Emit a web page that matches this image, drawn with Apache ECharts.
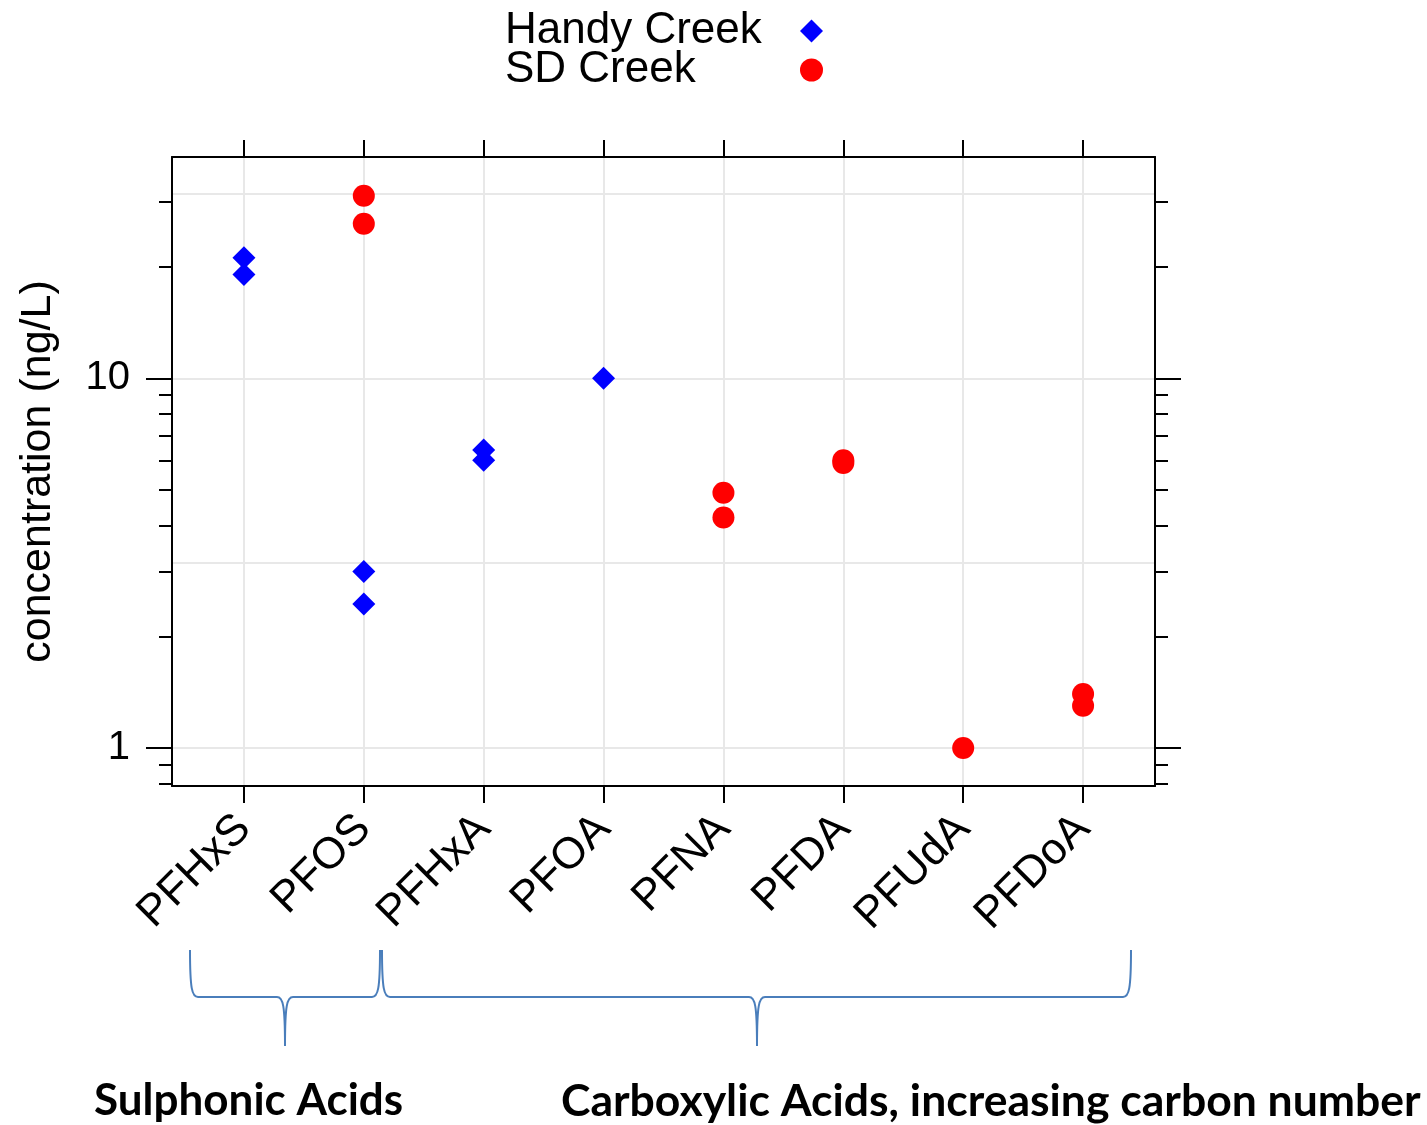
<!DOCTYPE html>
<html>
<head>
<meta charset="utf-8">
<script src="https://cdn.jsdelivr.net/npm/echarts@6/dist/echarts.min.js"></script>
<style>
  html, body { margin: 0; padding: 0; background: #fff; }
  #chart { width: 1427px; height: 1125px; }
</style>
</head>
<body>
<div id="chart"></div>
<script>
// Compounds along the x axis
const categories = ['PFHxS', 'PFOS', 'PFHxA', 'PFOA', 'PFNA', 'PFDA', 'PFUdA', 'PFDoA'];
// Measured concentrations (ng/L), one list per compound
const handyCreek = [[21.2, 19.1], [3.0, 2.45], [6.4, 6.0], [10.0], [], [], [], []];
const sdCreek = [[], [31.2, 26.2], [], [], [4.9, 4.2], [6.0, 5.9], [1.0], [1.4, 1.3]];
// Log-axis ticks and reference lines
const majorTicks = [1, 10];
const minorTicks = [0.8, 0.9, 2, 3, 4, 5, 6, 7, 8, 9, 20, 30];
const gridValues = [1, 3.1623, 10, 31.623];
const yRange = [0.789, 39.7];
// Group labels under the compound names
const groupLabels = ['Sulphonic Acids', 'Carboxylic Acids, increasing carbon number'];

const catPositions = categories.map((c, i) => i + 1);
const FONT = 'Liberation Sans, Arial, Helvetica, sans-serif';

function toPoints(groups) {
  const pts = [];
  groups.forEach((vals, i) => vals.forEach(v => pts.push([i + 1, v])));
  return pts;
}

// Horizontal curly brace opening upward, with its point facing down
function brace(x1, x2, xm, yTop, yBar, yTip) {
  const st = { fill: 'none', stroke: '#4a7ebb', lineWidth: 2 };
  const el = [];
  const curve = (a, b, c1, c2) => el.push({
    type: 'bezierCurve', silent: true, style: st,
    shape: { x1: a[0], y1: a[1], x2: b[0], y2: b[1], cpx1: c1[0], cpy1: c1[1], cpx2: c2[0], cpy2: c2[1] }
  });
  const line = (a, b) => el.push({
    type: 'line', silent: true, style: st,
    shape: { x1: a[0], y1: a[1], x2: b[0], y2: b[1] }
  });
  curve([x1, yTop], [x1 + 8, yBar], [x1, yBar - 8], [x1 + 2, yBar]);
  line([x1 + 8, yBar], [xm - 8, yBar]);
  curve([xm - 8, yBar], [xm, yTip], [xm - 2, yBar], [xm, yBar + 8]);
  curve([xm, yTip], [xm + 8, yBar], [xm, yBar + 8], [xm + 2, yBar]);
  line([xm + 8, yBar], [x2 - 8, yBar]);
  curve([x2 - 8, yBar], [x2, yTop], [x2 - 2, yBar], [x2, yBar - 8]);
  return el;
}

const frameLine = { show: true, lineStyle: { color: '#000', width: 2 } };

function logAxis(opts) {
  return Object.assign({
    type: 'log', logBase: 10, min: yRange[0], max: yRange[1],
    axisLine: { show: false },
    axisTick: { show: false },
    axisLabel: { show: false },
    splitLine: { show: false }
  }, opts);
}

const chart = echarts.init(document.getElementById('chart'));
chart.setOption({
  animation: false,
  backgroundColor: '#fff',
  grid: { left: 172, top: 157, right: 272, bottom: 339, containLabel: false },
  legend: {
    orient: 'vertical', left: 505, top: 9, padding: 0,
    align: 'right', itemGap: -5, itemWidth: 23, itemHeight: 23,
    selectedMode: false,
    formatter: '{t|{name}}',
    textStyle: {
      color: '#000', fontFamily: FONT, fontSize: 44, lineHeight: 39,
      rich: { t: { width: 290, align: 'left', fontSize: 44, fontFamily: FONT, lineHeight: 39, color: '#000' } }
    },
    data: ['Handy Creek', 'SD Creek']
  },
  xAxis: [
    {
      type: 'value', min: 0.4, max: 8.6, position: 'bottom',
      axisLine: frameLine,
      axisTick: { show: true, customValues: catPositions, length: 17, lineStyle: { color: '#000', width: 2 } },
      axisLabel: {
        show: true, customValues: catPositions, rotate: 45, margin: 36,
        fontSize: 44, fontFamily: FONT, color: '#000',
        formatter: v => categories[Math.round(v) - 1]
      },
      splitLine: { show: true, lineStyle: { color: '#e8e8e8', width: 2 } }
    },
    {
      type: 'value', min: 0.4, max: 8.6, position: 'top',
      axisLine: frameLine,
      axisTick: { show: true, customValues: catPositions, length: 17, lineStyle: { color: '#000', width: 2 } },
      axisLabel: { show: false },
      splitLine: { show: false }
    }
  ],
  yAxis: [
    logAxis({
      position: 'left',
      name: 'concentration (ng/L)', nameLocation: 'middle', nameGap: 112, nameRotate: 90,
      nameTextStyle: { fontSize: 43, fontFamily: FONT, color: '#000' },
      axisLine: frameLine,
      axisTick: { show: true, customValues: majorTicks, length: 26, lineStyle: { color: '#000', width: 2 } },
      axisLabel: { show: true, customValues: majorTicks, margin: 42, fontSize: 40, fontFamily: FONT, color: '#000' }
    }),
    logAxis({
      position: 'left',
      axisTick: { show: true, customValues: minorTicks, length: 13, lineStyle: { color: '#000', width: 2 } }
    }),
    logAxis({
      position: 'right',
      axisLine: frameLine,
      axisTick: { show: true, customValues: majorTicks, length: 26, lineStyle: { color: '#000', width: 2 } }
    }),
    logAxis({
      position: 'right',
      axisTick: { show: true, customValues: minorTicks, length: 13, lineStyle: { color: '#000', width: 2 } }
    }),
    logAxis({
      position: 'left',
      axisTick: { show: false, customValues: gridValues },
      splitLine: { show: true, lineStyle: { color: '#e8e8e8', width: 2 } }
    })
  ],
  series: [
    {
      name: 'Handy Creek', type: 'scatter', xAxisIndex: 0, yAxisIndex: 0,
      symbol: 'diamond', symbolSize: [23, 23],
      itemStyle: { color: '#0000ff', opacity: 1 },
      data: toPoints(handyCreek), z: 5
    },
    {
      name: 'SD Creek', type: 'scatter', xAxisIndex: 0, yAxisIndex: 0,
      symbol: 'circle', symbolSize: 22,
      itemStyle: { color: '#ff0000', opacity: 1 },
      data: toPoints(sdCreek), z: 5
    }
  ],
  graphic: [].concat(
    brace(190, 380, 285, 950, 997, 1046),
    brace(382, 1131, 757, 950, 997, 1046),
    [
      {
        type: 'text', left: 94, top: 1079,
        style: { text: groupLabels[0], font: 'bold 44px Lato, "Open Sans", sans-serif', fill: '#000' }
      },
      {
        type: 'text', left: 561, top: 1079,
        style: { text: groupLabels[1], font: 'bold 44.5px Lato, "Open Sans", sans-serif', fill: '#000' }
      }
    ]
  )
});
</script>
</body>
</html>
